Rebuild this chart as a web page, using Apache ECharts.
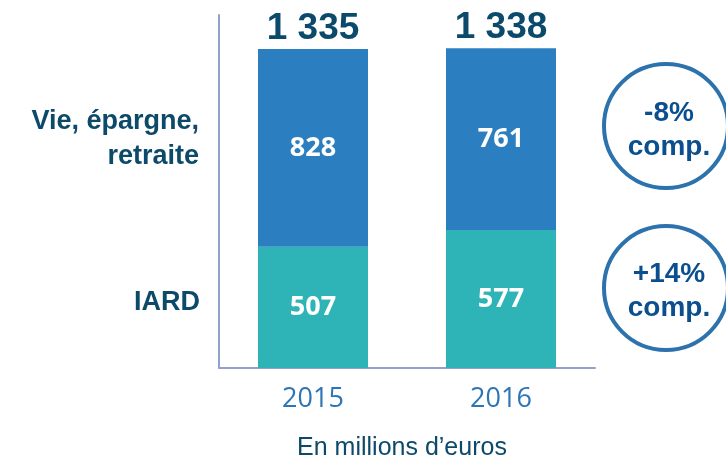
<!DOCTYPE html>
<html>
<head>
<meta charset="utf-8">
<script src="https://cdn.jsdelivr.net/npm/echarts@6/dist/echarts.min.js"></script>
<style>
  html, body { margin: 0; padding: 0; background: #fff; }
  #chart { width: 726px; height: 459px; }
</style>
</head>
<body>
<div id="chart"></div>
<script>
// données
const years = ['2015', '2016'];
const iard = [507, 577];
const vie = [828, 761];
const totals = [1335, 1338];
const evolutions = ['-8%', '+14%'];

const darkText = '#0d4a6a';
const circleBlue = '#2c72ad';

const fmtTotal = v => String(v).replace(/\B(?=(\d{3})+(?!\d))/g, ' ');

const chart = echarts.init(document.getElementById('chart'));

const options = {
  animation: false,
  grid: { left: 219, right: 131, top: 15, bottom: 91 },
  xAxis: {
    type: 'category',
    data: years,
    axisLine: { lineStyle: { color: '#8fa3c6', width: 2 } },
    axisTick: { show: false },
    axisLabel: {
      color: '#2e75b5',
      fontSize: 27,
      fontFamily: 'Open Sans',
      margin: 18
    }
  },
  yAxis: {
    type: 'value',
    min: 0,
    max: 1477,
    axisLine: { show: true, lineStyle: { color: '#8fa3c6', width: 2 } },
    axisTick: { show: false },
    axisLabel: { show: false },
    splitLine: { show: false }
  },
  series: [
    {
      name: 'IARD',
      type: 'bar',
      stack: 'total',
      barWidth: 110,
      data: iard,
      itemStyle: { color: '#2eb4b6' },
      label: {
        show: true,
        position: 'inside',
        color: '#fff',
        fontSize: 27,
        fontWeight: 'bold',
        fontFamily: 'Open Sans'
      }
    },
    {
      name: 'Vie, épargne, retraite',
      type: 'bar',
      stack: 'total',
      barWidth: 110,
      data: vie,
      itemStyle: { color: '#2b7fc0' },
      label: {
        show: true,
        position: 'inside',
        color: '#fff',
        fontSize: 27,
        fontWeight: 'bold',
        fontFamily: 'Open Sans'
      }
    },
    {
      name: 'Total',
      type: 'line',
      data: totals,
      symbol: 'circle',
      symbolSize: 2,
      itemStyle: { color: 'rgba(0,0,0,0)' },
      lineStyle: { color: 'rgba(0,0,0,0)' },
      label: {
        show: true,
        position: 'top',
        distance: 1,
        color: '#0b4a6b',
        fontSize: 37,
        fontWeight: 'bold',
        fontFamily: 'Liberation Sans',
        formatter: p => fmtTotal(p.value)
      }
    }
  ],
  graphic: [
    {
      type: 'text', x: 199, y: 122,
      style: {
        text: 'Vie, épargne,', align: 'right', verticalAlign: 'middle',
        fill: darkText, font: 'bold 27px "Liberation Sans"'
      }
    },
    {
      type: 'text', x: 199, y: 157,
      style: {
        text: 'retraite', align: 'right', verticalAlign: 'middle',
        fill: darkText, font: 'bold 27px "Liberation Sans"'
      }
    },
    {
      type: 'text', x: 200, y: 303,
      style: {
        text: 'IARD', align: 'right', verticalAlign: 'middle',
        fill: darkText, font: 'bold 27px "Liberation Sans"'
      }
    },
    {
      type: 'circle', shape: { cx: 666, cy: 126, r: 62 },
      style: { fill: 'none', stroke: circleBlue, lineWidth: 4 }
    },
    {
      type: 'circle', shape: { cx: 666, cy: 288, r: 62 },
      style: { fill: 'none', stroke: circleBlue, lineWidth: 4 }
    },
    {
      type: 'text', x: 669, y: 130,
      style: {
        text: evolutions[0] + '\ncomp.', align: 'center', verticalAlign: 'middle',
        fill: '#0b4f8e', font: 'bold 28px "Liberation Sans"', lineHeight: 34
      }
    },
    {
      type: 'text', x: 669, y: 291,
      style: {
        text: evolutions[1] + '\ncomp.', align: 'center', verticalAlign: 'middle',
        fill: '#0b4f8e', font: 'bold 28px "Liberation Sans"', lineHeight: 34
      }
    },
    {
      type: 'text', x: 402, y: 448,
      style: {
        text: 'En millions d\u2019euros', align: 'center', verticalAlign: 'middle',
        fill: darkText, font: '25px "Liberation Sans"'
      }
    }
  ]
};

chart.setOption(options);
window.addEventListener('resize', () => chart.resize());
</script>
</body>
</html>
